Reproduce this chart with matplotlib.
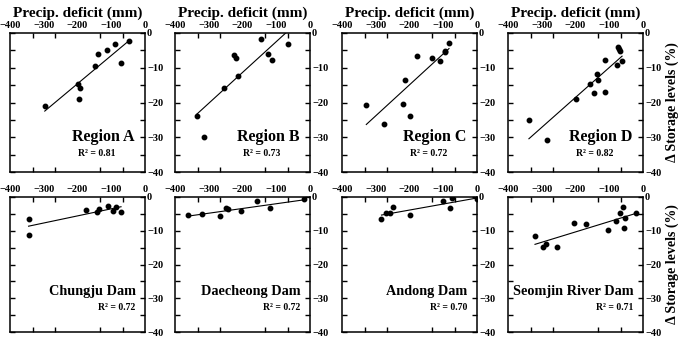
import matplotlib
matplotlib.use("Agg")
import matplotlib.pyplot as plt
import numpy as np
from matplotlib.ticker import FixedLocator

plt.rcParams["font.family"] = ["Liberation Serif", "DejaVu Serif"]
plt.rcParams["font.weight"] = "bold"

# precipitation deficit (mm) and change in storage level (%) per panel
region_a_x = [-297, -199, -192, -197, -147, -140, -114, -89, -71, -48]
region_a_y = [-20.9, -14.7, -15.9, -18.9, -9.6, -5.9, -4.8, -3.3, -8.7, -2.2]
region_b_x = [-336, -315, -255, -226, -218, -212, -144, -123, -114, -65]
region_b_y = [-23.9, -29.9, -15.9, -6.3, -7.3, -12.4, -1.6, -6.0, -7.7, -3.3]
region_c_x = [-328, -277, -220, -214, -198, -178, -133, -109, -96, -94, -83]
region_c_y = [-20.6, -26.2, -20.5, -13.4, -23.8, -6.7, -7.2, -8.0, -5.5, -5.1, -3.0]
region_d_x = [-338, -283, -200, -158, -144, -136, -132, -113, -112, -78, -73, -70, -68, -62]
region_d_y = [-24.9, -30.9, -18.9, -14.8, -17.3, -11.8, -13.5, -7.8, -17.0, -9.1, -4.0, -4.6, -5.1, -8.2]
chungju_x = [-343, -345, -176, -143, -135, -109, -96, -85, -71]
chungju_y = [-6.6, -11.3, -3.95, -4.4, -3.6, -2.8, -4.0, -3.1, -4.4]
daecheong_x = [-361, -319, -267, -248, -242, -205, -156, -119, -18]
daecheong_y = [-5.4, -5.1, -5.7, -3.2, -3.7, -4.0, -1.3, -3.4, -0.7]
andong_x = [-283, -271, -259, -249, -198, -101, -73, -79, 0]
andong_y = [-6.6, -4.8, -4.8, -3.0, -5.3, -1.1, -0.2, -3.2, -0.7]
seomjin_x = [-320, -297, -287, -255, -204, -168, -105, -79, -69, -58, -57, -52, -22]
seomjin_y = [-11.5, -14.8, -13.9, -14.8, -7.8, -8.0, -9.7, -7.0, -4.7, -3.0, -9.3, -6.2, -4.6]

names = ["Region A", "Region B", "Region C", "Region D",
         "Chungju Dam", "Daecheong Dam", "Andong Dam", "Seomjin River Dam"]
r2 = ["0.81", "0.73", "0.72", "0.82", "0.72", "0.72", "0.70", "0.71"]
xs = [region_a_x, region_b_x, region_c_x, region_d_x,
      chungju_x, daecheong_x, andong_x, seomjin_x]
ys = [region_a_y, region_b_y, region_c_y, region_d_y,
      chungju_y, daecheong_y, andong_y, seomjin_y]

W, H = 685, 337
fig = plt.figure(figsize=(W / 100, H / 100), dpi=100)

col_left = [10, 175, 342, 508]
col_w = 135
row_top = [33, 197]
row_h = [139, 135]

for i, name in enumerate(names):
    r, c = divmod(i, 4)
    ax = fig.add_axes([col_left[c] / W, 1 - (row_top[r] + row_h[r]) / H,
                       col_w / W, row_h[r] / H])
    x = np.array(xs[i], float)
    y = np.array(ys[i], float)
    ax.plot(x, y, "o", color="black", markersize=3.2, zorder=3)
    k, b = np.polyfit(x, y, 1)
    xl = np.array([x.min(), x.max()])
    ax.plot(xl, k * xl + b, color="black", linewidth=0.8)

    ax.set_xlim(-400, 0)
    ax.set_ylim(-40, 0)
    for s in ax.spines.values():
        s.set_linewidth(1.1)

    ax.xaxis.set_major_locator(FixedLocator([-400, -300, -200, -100, 0]))
    ax.xaxis.set_minor_locator(FixedLocator(list(np.linspace(-400, 0, 7)[1:-1])))
    ax.yaxis.set_major_locator(FixedLocator([-40, -30, -20, -10, 0]))
    ax.yaxis.set_minor_locator(FixedLocator([-35, -25, -15, -5]))
    ax.tick_params(axis="x", which="major", length=0, pad=2, labelsize=7.5,
                   top=True, bottom=False, labeltop=True, labelbottom=False)
    ax.tick_params(axis="x", which="minor", direction="in", length=3.5, width=1,
                   top=True, bottom=True)
    ax.tick_params(axis="y", which="both", direction="in", length=3.5, width=1,
                   left=True, right=True, labelleft=False, labelright=True,
                   labelsize=7.5, pad=1.5)
    for lab in ax.get_xticklabels() + ax.get_yticklabels():
        lab.set_fontweight("bold")

    if r == 0:
        ax.text(0.92, 0.25, name, transform=ax.transAxes, ha="right",
                va="center", fontsize=11.5, fontweight="bold")
        ax.text(0.78, 0.13, "R² = " + r2[i], transform=ax.transAxes,
                ha="right", va="center", fontsize=7, fontweight="bold")
        ax.set_title("Precip. deficit (mm)", fontsize=11, fontweight="bold",
                     pad=12)
    else:
        ax.text(0.93, 0.30, name, transform=ax.transAxes, ha="right",
                va="center", fontsize=10.3, fontweight="bold")
        ax.text(0.93, 0.185, "R² = " + r2[i], transform=ax.transAxes,
                ha="right", va="center", fontsize=7, fontweight="bold")
    if c == 3:
        ax.yaxis.set_label_position("right")
        ax.set_ylabel("\u0394 Storage levels (%)", fontsize=10,
                      fontweight="bold", labelpad=3)

fig.savefig("out.png", dpi=100)
